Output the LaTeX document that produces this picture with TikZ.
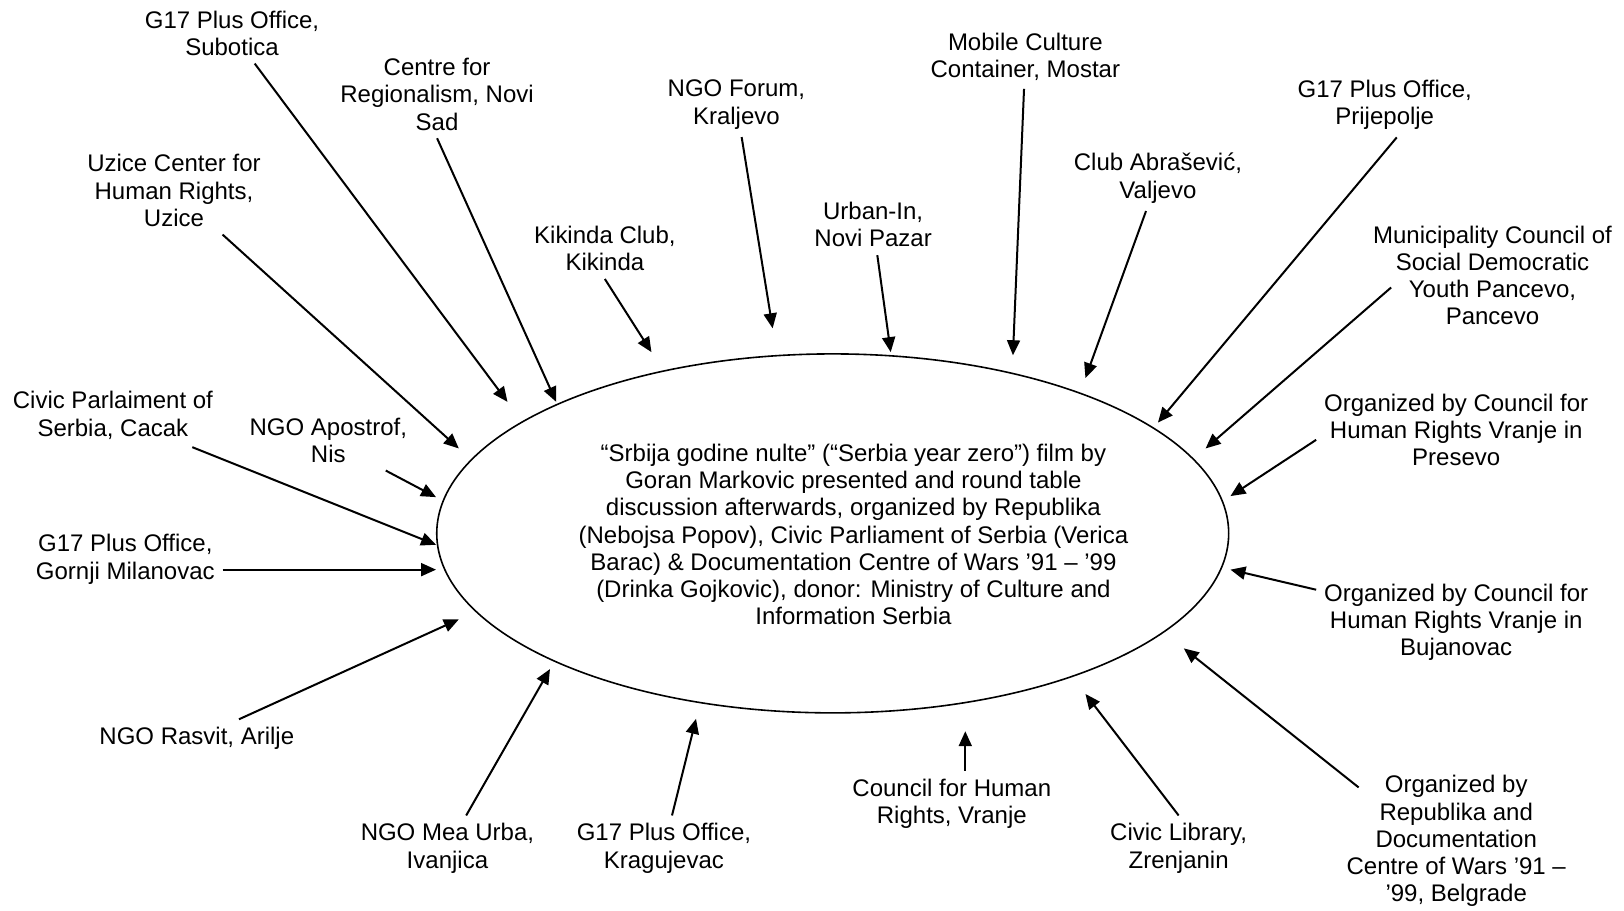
\documentclass[tikz,border=0pt]{standalone}
\usepackage{fontspec}
\setmainfont{Liberation Sans}
\usetikzlibrary{arrows.meta,shapes.geometric}
\tikzset{
  basic/.style   = {font=\fontsize{12}{13.6}\selectfont, align=center},
  venue/.style   = {basic, inner sep=2pt, outer sep=2pt},
  hub/.style     = {draw, ellipse, line width=0.8pt, inner sep=0pt,
                    minimum width=396pt, minimum height=179.5pt},
  hubtext/.style = {basic, inner sep=0pt}
}

\begin{document}
\begin{tikzpicture}[
  x=0.5179pt, y=-0.5179pt,
  link/.style={->, line width=1pt},
  >={Triangle[length=7.5pt,width=6.5pt]}]

\useasboundingbox (0,0) rectangle (1568,879);

% the film screening in the middle
\node[hub] (film) at (804,515) {};
\node[hubtext] (filmtext) at (824,516) {“Srbija godine nulte” (“Serbia year zero”) film by\\
  Goran Markovic presented and round table\\
  discussion afterwards, organized by Republika\\
  (Nebojsa Popov), Civic Parliament of Serbia (Verica\\
  Barac) \& Documentation Centre of Wars ’91 – ’99\\
  (Drinka Gojkovic), donor: Ministry of Culture and\\
  Information Serbia};

% the places round it, clockwise from top left
\node[venue] (v1)  at (224,32)   {G17 Plus Office,\\Subotica};
\node[venue] (v2)  at (422,91)   {Centre for\\Regionalism, Novi\\Sad};
\node[venue] (v3)  at (168,184)  {Uzice Center for\\Human Rights,\\Uzice};
\node[venue] (v4)  at (584,240)  {Kikinda Club,\\Kikinda};
\node[venue] (v5)  at (711,101)  {NGO Forum,\\Kraljevo};
\node[venue] (v6)  at (843,217)  {Urban-In,\\Novi Pazar};
\node[venue] (v7)  at (990,55)   {Mobile Culture\\Container, Mostar};
\node[venue] (v8)  at (1118,172) {Club Abrašević,\\Valjevo};
\node[venue] (v9)  at (1337,101) {G17 Plus Office,\\Prijepolje};
\node[venue] (v10) at (1441,266) {Municipality Council of\\Social Democratic\\Youth Pancevo,\\Pancevo};
\node[venue] (v11) at (1406,415) {Organized by Council for\\Human Rights Vranje in\\Presevo};
\node[venue] (v12) at (1406,601) {Organized by Council for\\Human Rights Vranje in\\Bujanovac};
\node[venue] (v13) at (1406,812) {Organized by\\Republika and\\Documentation\\Centre of Wars ’91 –\\’99, Belgrade};
\node[venue] (v14) at (1138,819) {Civic Library,\\Zrenjanin};
\node[venue] (v15) at (641,819)  {G17 Plus Office,\\Kragujevac};
\node[venue] (v16) at (432,819)  {NGO Mea Urba,\\Ivanjica};
\node[venue] (v17) at (190,713)  {NGO Rasvit, Arilje};
\node[venue] (v18) at (109,401)  {Civic Parlaiment of\\Serbia, Cacak};
\node[venue] (v19) at (317,425)  {NGO Apostrof,\\Nis};
\node[venue] (v20) at (121,540)  {G17 Plus Office,\\Gornji Milanovac};
\node[venue] (v21) at (919,776)  {Council for Human\\Rights, Vranje};

% where the arrows stop, next to the ellipse
\coordinate (a1)  at (490,388);
\coordinate (a2)  at (537,388);
\coordinate (a3)  at (443,433);
\coordinate (a4)  at (629,340);
\coordinate (a5)  at (746,317);
\coordinate (a6)  at (860,340);
\coordinate (a7)  at (978,343);
\coordinate (a8)  at (1048,365);
\coordinate (a9)  at (1118,408);
\coordinate (a10) at (1164,433);
\coordinate (a11) at (1188,479);
\coordinate (a12) at (1188,550);
\coordinate (a13) at (1143,626);
\coordinate (a14) at (1048,670);
\coordinate (a15) at (672,694);
\coordinate (a16) at (531,646);
\coordinate (a17) at (443,598);
\coordinate (a18) at (421,526);
\coordinate (a19) at (421,480);
\coordinate (a20) at (421,550);
\coordinate (a21) at (932,706);

% arrows from every place to the screening
\foreach \value in {1,3,5,6,7,8,12,15,16,17,18,19}
  \draw[link] (v\value) -- (a\value);

% the ones leaving from a side of their label
\foreach \value in {2,4}
  \draw[link] (v\value.south) -- (a\value);
\draw[link] (v14.north) -- (a14);
\draw[link] ([xshift=6pt]v9.south) -- (a9);
\draw[link] ([xshift=13pt,yshift=-6pt]v10.west) -- (a10);
\draw[link] ([yshift=-5pt]v11.west) -- (a11);
\draw[link] ([xshift=10pt,yshift=-10pt]v13.north west) -- (a13);
\draw[link] (v20.east |- a20) -- (a20);
\draw[link] (v21.north -| a21) -- (a21);
\end{tikzpicture}
\end{document}
